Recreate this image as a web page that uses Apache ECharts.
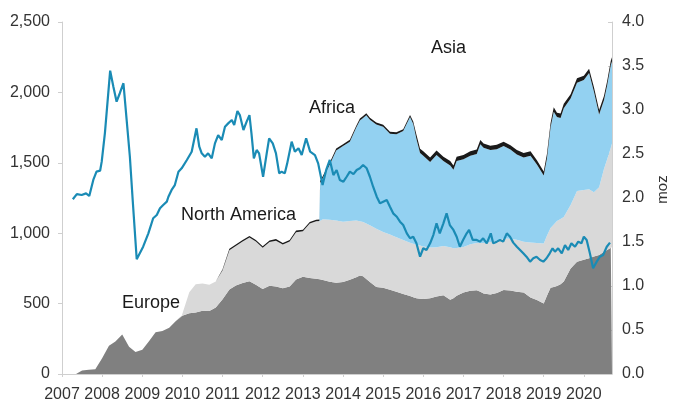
<!DOCTYPE html>
<html><head><meta charset="utf-8">
<script src="https://cdn.jsdelivr.net/npm/echarts@6/dist/echarts.min.js"></script>
<style>html,body{margin:0;padding:0;background:#fff}#c{width:676px;height:410px}</style>
</head><body><div id="c"></div>
<script>
// Stacked demand by region (moz, right axis), sampled at decimal years
const areaYears = [
 2007.35,2007.5,2007.67,2007.83,2008.0,2008.17,2008.33,2008.5,2008.67,2008.83,
 2009.0,2009.17,2009.33,2009.5,2009.67,2009.83,2009.98,2010.02,2010.17,2010.33,
 2010.5,2010.67,2010.83,2011.0,2011.17,2011.33,2011.5,2011.67,2011.83,2012.0,
 2012.17,2012.33,2012.5,2012.67,2012.83,2013.0,2013.17,2013.33,2013.41,2013.43,
 2013.5,2013.67,2013.83,2014.0,2014.17,2014.33,2014.42,2014.5,2014.58,2014.67,
 2014.83,2015.0,2015.17,2015.33,2015.5,2015.67,2015.75,2015.83,2015.92,2016.0,
 2016.17,2016.33,2016.5,2016.67,2016.75,2016.83,2017.0,2017.17,2017.33,2017.42,
 2017.5,2017.67,2017.83,2018.0,2018.17,2018.33,2018.5,2018.67,2018.83,2019.0,
 2019.08,2019.17,2019.25,2019.33,2019.42,2019.5,2019.67,2019.83,2020.0,2020.13,
 2020.25,2020.38,2020.5,2020.58,2020.67,2020.7
];
const europe = [
 0,.04,.048,.055,.18,.32,.37,.45,.31,.25,
 .275,.375,.475,.49,.525,.60,.66,.667,.69,.70,
 .718,.715,.755,.85,.96,1.005,1.035,1.055,1.015,.965,
 1.003,.995,.975,.995,1.075,1.105,1.09,1.083,1.078,1.076,
 1.068,1.049,1.038,1.045,1.07,1.10,1.12,1.11,1.08,1.045,
 .99,.98,.958,.935,.908,.885,.872,.86,.856,.853,
 .862,.88,.895,.845,.86,.89,.925,.945,.952,.935,
 .915,.902,.92,.955,.95,.935,.926,.87,.84,.80,
 .89,.98,.99,1.0,1.02,1.05,1.20,1.275,1.298,1.315,
 1.335,1.352,1.39,1.41,1.435,1.44
];
const northAmerica = [
 0,0,0,0,0,0,0,0,0,0,
 0,0,0,0,0,0,0,.05,.24,.32,
 .31,.30,.295,.33,.445,.45,.47,.495,.49,.47,
 .497,.52,.497,.51,.537,.516,.619,.652,.66,.665,
 .69,.703,.707,.686,.67,.644,.615,.617,.63,.645,
 .66,.634,.626,.618,.615,.607,.608,.61,.603,.596,
 .575,.56,.559,.595,.57,.542,.518,.53,.537,.555,
 .574,.598,.595,.585,.587,.59,.577,.625,.649,.683,
 .68,.68,.71,.74,.74,.734,.72,.805,.792,.785,
 .73,.77,.94,1.03,1.135,1.18
];
const asia = [
 0,0,0,0,0,0,0,0,0,0,
 0,0,0,0,0,0,0,0,0,0,
 0,0,0,0,0,0,0,0,0,0,
 0,0,0,0,0,0,0,0,0,.429,
 .472,.628,.795,.859,.90,1.056,1.145,1.183,1.23,1.20,
 1.185,1.196,1.146,1.172,1.237,1.428,1.36,1.20,1.051,1.031,
 .973,1.05,.966,.93,.89,.988,.997,1.005,1.011,1.12,
 1.081,1.045,1.04,1.05,1.013,.97,.957,.985,.891,.772,
 .88,1.14,1.28,1.18,1.15,1.236,1.21,1.23,1.25,1.32,
 1.145,.828,.78,.84,.94,.93
];
const africa = [
 0,0,0,0,0,0,0,0,0,0,
 0,0,0,0,0,0,0,0,0,0,
 0,0,0,.01,.018,.018,.018,.018,.018,.018,
 .018,.018,.018,.018,.018,.018,.018,.018,.018,.022,
 .022,.022,.022,.022,.022,.022,.022,.022,.022,.022,
 .022,.022,.022,.022,.022,.022,.03,.05,.05,.05,
 .05,.05,.05,.05,.05,.05,.05,.05,.05,.05,
 .05,.05,.05,.05,.05,.05,.05,.05,.05,.045,
 .05,.05,.05,.05,.05,.05,.05,.05,.05,.05,
 .05,.05,.05,.05,.05,.05
];
// Price line (USD/oz, left axis)
const priceYears = [
 2007.27,2007.37,2007.49,2007.60,2007.68,2007.78,2007.86,2007.95,2007.99,2008.07,
 2008.20,2008.28,2008.36,2008.44,2008.53,2008.61,2008.69,2008.76,2008.86,2009.02,
 2009.15,2009.27,2009.36,2009.44,2009.52,2009.61,2009.65,2009.73,2009.81,2009.90,
 2009.98,2010.11,2010.23,2010.35,2010.42,2010.48,2010.56,2010.64,2010.73,2010.81,
 2010.89,2010.98,2011.06,2011.14,2011.23,2011.29,2011.37,2011.43,2011.52,2011.60,
 2011.67,2011.72,2011.78,2011.85,2011.91,2012.01,2012.10,2012.16,2012.25,2012.33,
 2012.41,2012.47,2012.55,2012.61,2012.72,2012.80,2012.89,2012.97,2013.08,2013.18,
 2013.30,2013.38,2013.49,2013.58,2013.67,2013.76,2013.84,2013.92,2014.01,2014.09,
 2014.17,2014.26,2014.34,2014.42,2014.50,2014.59,2014.67,2014.75,2014.84,2014.92,
 2015.00,2015.09,2015.17,2015.25,2015.34,2015.42,2015.50,2015.59,2015.67,2015.75,
 2015.83,2015.92,2016.00,2016.08,2016.17,2016.25,2016.33,2016.41,2016.50,2016.58,
 2016.66,2016.75,2016.83,2016.91,2016.99,2017.08,2017.14,2017.23,2017.33,2017.41,
 2017.49,2017.58,2017.68,2017.74,2017.83,2017.91,2017.99,2018.08,2018.16,2018.24,
 2018.33,2018.41,2018.49,2018.57,2018.66,2018.74,2018.82,2018.91,2018.99,2019.07,
 2019.15,2019.22,2019.28,2019.36,2019.45,2019.53,2019.61,2019.69,2019.78,2019.86,
 2019.94,2020.00,2020.07,2020.15,2020.23,2020.32,2020.40,2020.48,2020.57,2020.65
];
const price = [
 1241,1278,1271,1283,1264,1378,1437,1444,1508,1712,
 2154,2040,1934,1994,2065,1804,1543,1236,815,904,
 999,1106,1129,1177,1200,1224,1259,1307,1342,1437,
 1461,1520,1579,1745,1614,1567,1543,1567,1532,1638,
 1697,1662,1756,1780,1804,1768,1868,1839,1733,1792,
 1839,1709,1532,1591,1567,1401,1567,1674,1638,1567,
 1425,1437,1425,1496,1650,1579,1603,1555,1674,1579,
 1555,1496,1342,1449,1520,1413,1449,1378,1366,1401,
 1437,1420,1449,1461,1484,1461,1401,1330,1259,1212,
 1224,1236,1188,1141,1117,1082,1058,999,964,975,
 928,833,893,881,928,987,1070,999,1070,1141,
 1058,1023,975,904,952,999,1023,952,952,940,
 964,928,999,928,940,952,940,999,975,933,
 904,881,857,833,798,822,833,810,798,822,
 857,893,869,893,857,916,881,928,904,940,
 928,975,952,857,751,798,833,845,904,933
];
const leftTicks = {min: 0, max: 2500, interval: 500};
const rightTicks = {min: 0, max: 4, interval: 0.5};
const regionLabels = ['Asia', 'Africa', 'North America', 'Europe'];

function ts(y){ const yr = Math.floor(y); const a = Date.UTC(yr,0,1), b = Date.UTC(yr+1,0,1); return a + (y-yr)*(b-a); }
const pair = (xs, ys) => xs.map((x,i) => [ts(x), ys[i]]);
const FONT = '"Liberation Sans", Arial, Helvetica, sans-serif';
const YEAR = 365*24*3600*1000;
const AXIS = '#cfcfcf', TXT = '#333333';

function area(name, vals, color){
  return {name, type:'line', yAxisIndex:1, stack:'moz', data: pair(areaYears, vals),
    symbol:'none', showSymbol:false, silent:true,
    lineStyle:{width:0, opacity:0}, areaStyle:{color, opacity:1}, z:2};
}

const chart = echarts.init(document.getElementById('c'), null, {renderer:'canvas'});
chart.setOption({
  useUTC: true,
  animation: false,
  grid: {left:62, right:64, top:22, bottom:36, containLabel:false, outerBoundsMode:'none'},
  xAxis: {type:'time', min: ts(2007), max: ts(2020.7), minInterval: YEAR, maxInterval: YEAR, splitNumber: 14,
    axisLine:{show:true, onZero:false, lineStyle:{color:AXIS, width:1}},
    axisTick:{show:true, length:3, lineStyle:{color:AXIS}},
    splitLine:{show:false},
    axisLabel:{color:TXT, fontSize:16, fontFamily:FONT, margin:13, showMaxLabel:false, hideOverlap:false,
      formatter: v => { const d = new Date(v); return (d.getUTCMonth()===0 && d.getUTCDate()===1) ? String(d.getUTCFullYear()) : ''; }}
  },
  yAxis: [
    {type:'value', position:'left', min:leftTicks.min, max:leftTicks.max, interval:leftTicks.interval,
      name:'USD/oz', nameLocation:'middle', nameGap:50,
      nameTextStyle:{color:TXT, fontSize:15, fontFamily:FONT},
      axisLine:{show:true, lineStyle:{color:AXIS}},
      axisTick:{show:true, length:4, lineStyle:{color:AXIS}},
      splitLine:{show:false},
      axisLabel:{color:TXT, fontSize:16, fontFamily:FONT, margin:12, formatter: v => v.toLocaleString('en-US')}},
    {type:'value', position:'right', min:rightTicks.min, max:rightTicks.max, interval:rightTicks.interval,
      name:'moz', nameLocation:'middle', nameGap:42,
      nameTextStyle:{color:TXT, fontSize:15, fontFamily:FONT, padding:[0,0,0,17]},
      axisLine:{show:true, lineStyle:{color:AXIS}},
      axisTick:{show:true, inside:true, length:4, lineStyle:{color:AXIS}},
      splitLine:{show:false},
      axisLabel:{color:TXT, fontSize:16, fontFamily:FONT, margin:10, formatter: v => v.toFixed(1)}}
  ],
  series: [
    area('Europe', europe, '#808080'),
    area('North America', northAmerica, '#d9d9d9'),
    area('Asia', asia, '#93d1f1'),
    area('Africa', africa, '#1a1a1a'),
    {name:'Price', type:'line', yAxisIndex:0, data: pair(priceYears, price), symbol:'none', showSymbol:false,
      lineStyle:{color:'#1a8bb5', width:2.2}, z:5, silent:true}
  ],
  graphic: [
    {type:'text', left:431, top:39, style:{text:regionLabels[0], fontSize:18, fontFamily:FONT, fill:'#1a1a1a'}},
    {type:'text', left:309, top:99, style:{text:regionLabels[1], fontSize:18, fontFamily:FONT, fill:'#1a1a1a'}},
    {type:'text', left:181, top:206, style:{text:regionLabels[2], fontSize:18, fontFamily:FONT, fill:'#1a1a1a'}},
    {type:'text', left:122, top:294, style:{text:regionLabels[3], fontSize:18, fontFamily:FONT, fill:'#1a1a1a'}}
  ]
});
</script></body></html>
